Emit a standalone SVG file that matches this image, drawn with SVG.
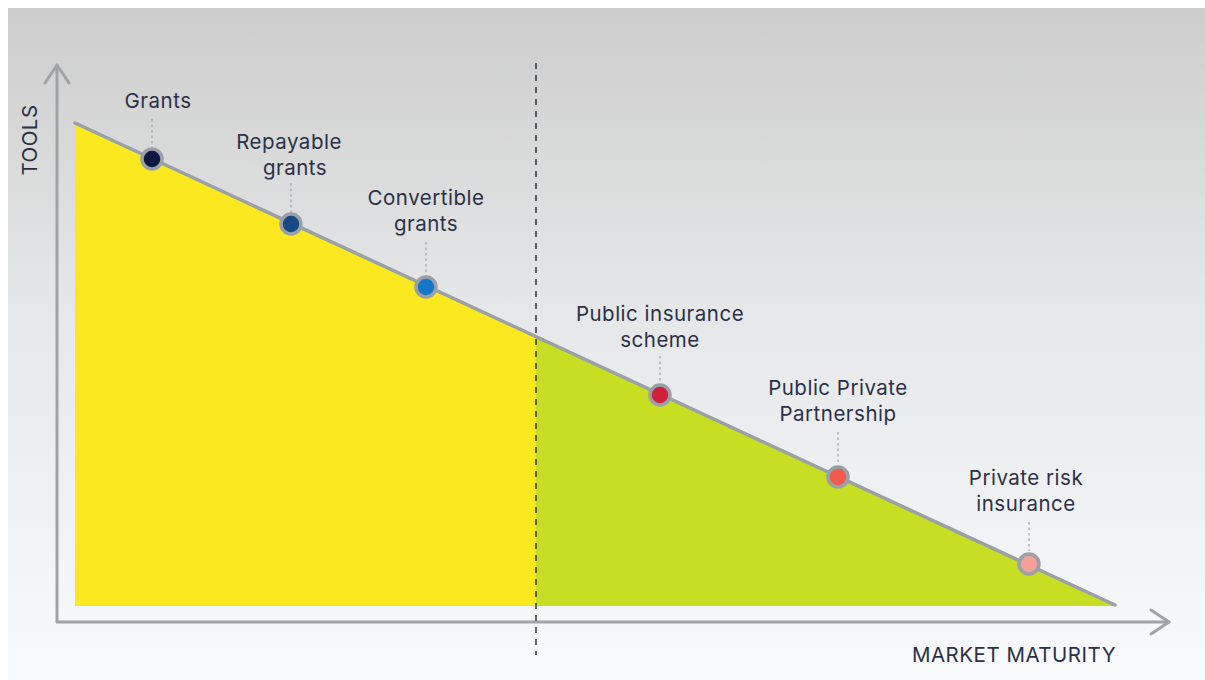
<svg xmlns="http://www.w3.org/2000/svg" width="1205" height="680" viewBox="0 0 1205 680">
  <defs>
    <linearGradient id="bg" x1="0" y1="0" x2="0" y2="1">
      <stop offset="0" stop-color="#cdcdcd"/>
      <stop offset="0.45" stop-color="#e6e7e8"/>
      <stop offset="1" stop-color="#f9fafb"/>
    </linearGradient>
    <style>
      .axis { fill: none; stroke: #9ea3aa; stroke-width: 3; stroke-linecap: round; stroke-linejoin: round; }
      .trend { fill: none; stroke: #9aa0a8; stroke-width: 3.5; stroke-linecap: round; }
      .split { fill: none; stroke: #3a3d48; stroke-width: 1.6; stroke-dasharray: 6 6; }
      .lead { fill: none; stroke: #a9adb3; stroke-width: 1.5; stroke-dasharray: 2.5 3; }
      .dot { stroke: #9aa0a8; stroke-width: 3.5; }
      .lbl { font-family: Inter, "Liberation Sans", sans-serif; font-size: 20.5px; letter-spacing: 0.5px; fill: #2b3048; text-anchor: middle; }
      .ax { font-family: Inter, "Liberation Sans", sans-serif; font-size: 20.5px; letter-spacing: 0.5px; fill: #2b3048; text-anchor: middle; }
    </style>
  </defs>

  <!-- backdrop -->
  <rect x="0" y="0" width="1205" height="680" fill="#ffffff"/>
  <rect x="8" y="8" width="1197" height="672" fill="url(#bg)"/>

  <!-- filled areas under the trend line -->
  <g id="areas">
    <polygon points="75,123 536,337 536,606 75,606" fill="#fbe81f"/>
    <polygon points="536,337 1115,605 1115,606 536,606" fill="#c8de22"/>
  </g>

  <!-- axes -->
  <g id="axes">
    <path class="axis" d="M57,65 L57,622 L1169,622"/>
    <path class="axis" d="M45,83 L57,65 L69,83"/>
    <path class="axis" d="M1151,610 L1169,622 L1151,634"/>
    <text class="ax" transform="translate(37,140) rotate(-90)">TOOLS</text>
    <text class="ax" x="1014" y="662">MARKET MATURITY</text>
  </g>

  <g id="connectors">
    <line class="split" x1="536" y1="63" x2="536" y2="655"/>
    <line class="trend" x1="75" y1="123" x2="1115" y2="605"/>
    <line class="lead" x1="152" y1="119" x2="152" y2="147"/>
    <line class="lead" x1="291" y1="183" x2="291" y2="212"/>
    <line class="lead" x1="426" y1="242" x2="426" y2="274"/>
    <line class="lead" x1="660" y1="356" x2="660" y2="382"/>
    <line class="lead" x1="838" y1="432" x2="838" y2="464"/>
    <line class="lead" x1="1029" y1="522" x2="1029" y2="551"/>
  </g>

  <g id="grants">
    <circle class="dot" cx="152" cy="159" r="10" fill="#0d1740"/>
    <text class="lbl" x="158" y="108">Grants</text>
  </g>

  <g id="repayable-grants">
    <circle class="dot" cx="291" cy="224" r="10" fill="#174a82"/>
    <text class="lbl" x="289" y="149">Repayable</text>
    <text class="lbl" x="295" y="175">grants</text>
  </g>

  <g id="convertible-grants">
    <circle class="dot" cx="426" cy="287" r="10" fill="#1478c9"/>
    <text class="lbl" x="426" y="205">Convertible</text>
    <text class="lbl" x="426" y="231">grants</text>
  </g>

  <g id="public-insurance-scheme">
    <circle class="dot" cx="660" cy="395" r="10" fill="#d1203c"/>
    <text class="lbl" x="660" y="321">Public insurance</text>
    <text class="lbl" x="660" y="347">scheme</text>
  </g>

  <g id="public-private-partnership">
    <circle class="dot" cx="838" cy="477" r="10" fill="#f15a4d"/>
    <text class="lbl" x="838" y="395">Public Private</text>
    <text class="lbl" x="838" y="421">Partnership</text>
  </g>

  <g id="private-risk-insurance">
    <circle class="dot" cx="1029" cy="564" r="10" fill="#f3a09a"/>
    <text class="lbl" x="1026" y="485">Private risk</text>
    <text class="lbl" x="1026" y="511">insurance</text>
  </g>
</svg>
